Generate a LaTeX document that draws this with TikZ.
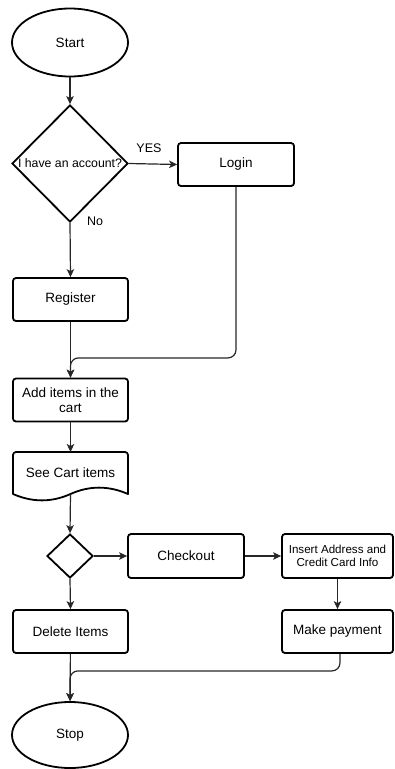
\documentclass[tikz,border=0pt]{standalone}
\usepackage{fontspec}
\setmainfont{Liberation Sans}
\usetikzlibrary{shapes.geometric,arrows.meta}
\begin{document}
\begin{tikzpicture}[x=1pt,y=-1pt,
  boxline/.style={draw=black,line width=1.8pt},
  proc/.style={boxline,rectangle,rounded corners=3pt,minimum width=115pt,minimum height=43pt,inner sep=0pt,align=center,font=\fontsize{13.5}{15.5}\selectfont},
  term/.style={boxline,ellipse,minimum width=116pt,inner sep=0pt,font=\fontsize{13.5}{15.5}\selectfont},
  decis/.style={boxline,diamond,inner sep=0pt},
  conn/.style={draw=black!85,line width=1.2pt,-{Stealth[length=8pt,width=7.5pt,inset=2pt]}},
  elabel/.style={font=\fontsize{12.5}{14}\selectfont,inner sep=0pt}]
\useasboundingbox (0,0) rectangle (394,769);
% nodes
\node[term,minimum height=68pt] (start) at (70,42.5) {Start};
\node[decis,minimum width=116pt,minimum height=117pt,
      label={[font=\fontsize{12.3}{14}\selectfont]center:I have an account?}] (q1) at (70,163.5) {};
\node[proc,minimum width=116pt] (login) at (236,164.5) {Login};
\node[proc] (register) at (70.5,299.5) {Register};
\node[proc] (add) at (70.5,400) {Add items in the\\cart};
\node[rectangle,minimum width=115pt,minimum height=42pt,inner sep=0pt,outer sep=0pt,
      font=\fontsize{13.5}{15.5}\selectfont] (cart) at (70.5,473) {\raisebox{-3pt}{See Cart items}};
\draw[boxline,line join=round]
  (13,494) -- (13,455) [rounded corners=3pt] -- (13,452) -- (128,452) [sharp corners] -- (128,494)
  .. controls (108.5,485.5) and (89.5,485.5) .. (70.5,494)
  .. controls (51.5,502.5) and (32.5,502.5) .. (13,494) -- cycle;
\node[decis,minimum width=46pt,minimum height=44pt] (q2) at (70,556) {};
\node[proc,minimum width=116pt,minimum height=44pt] (checkout) at (186,556) {Checkout};
\node[proc,minimum width=111pt,minimum height=44pt,font=\fontsize{11.6}{13.5}\selectfont] (insert) at (337.5,556) {Insert Address and\\Credit Card Info};
\node[proc,minimum width=111pt] (pay) at (337.5,631.5) {Make payment};
\node[proc] (delete) at (70.5,631.5) {Delete Items};
\node[term,minimum height=66pt] (stop) at (70,735) {Stop};
% connectors
\draw[conn] (start) -- (q1);
\draw[conn] (q1.east) -- (login.west);
\node[elabel] (yes) at (149,148) {YES};
\draw[conn] (q1.south) -- (register.north);
\node[elabel] (no) at (95,221) {No};
\draw[conn] (register) -- (add);
\draw[conn,rounded corners=8pt] (login.south) -- ++(0,171) -| (add.north);
\draw[conn] (add) -- (cart);
\draw[conn] (cart.south) -- (q2.north);
\draw[conn] (q2.east) -- (checkout.west);
\draw[conn] (checkout) -- (insert);
\draw[conn] (insert) -- (pay);
\draw[conn] (q2.south) -- (delete.north);
\draw[conn] (delete) -- (stop);
\draw[conn,rounded corners=8pt] ([xshift=2.5pt]pay.south) -- ++(0,17) -| (stop.north);
\end{tikzpicture}
\end{document}
